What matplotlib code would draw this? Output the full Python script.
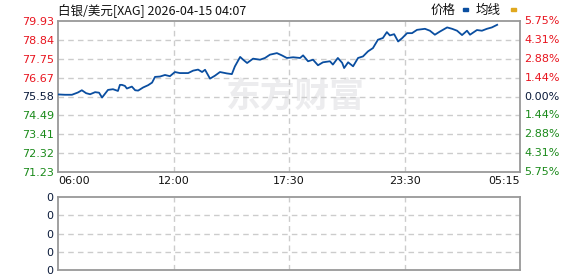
import matplotlib
matplotlib.use("Agg")
import matplotlib.pyplot as plt
from matplotlib.patches import Rectangle

# ---------------- data ----------------
title_text = "白银/美元[XAG] 2026-04-15 04:07"
prev_close = 75.58
price_ticks = [79.93, 78.84, 77.75, 76.67, 75.58, 74.49, 73.41, 72.32, 71.23]
pct_labels = ["5.75%", "4.31%", "2.88%", "1.44%", "0.00%", "1.44%", "2.88%", "4.31%", "5.75%"]
time_labels = ["06:00", "12:00", "17:30", "23:30", "05:15"]
total_minutes = 1395  # 06:00 -> 05:15 next day

# minutes since 06:00
minutes = [0, 21, 42, 60, 72, 85, 97, 112, 124, 133, 151, 166, 181, 187, 193, 202, 208,
           223, 233, 242, 257, 272, 284, 293, 308, 323, 338, 353, 368, 393, 408, 423,
           435, 444, 459, 474, 489, 510, 525, 534, 550, 559, 571, 589, 610, 625, 640,
           661, 676, 691, 710, 731, 740, 755, 770, 785, 800, 821, 830, 845, 858, 864,
           876, 891, 906, 921, 936, 951, 966, 981, 993, 1002, 1015, 1027, 1039, 1054,
           1069, 1084, 1108, 1123, 1138, 1153, 1175, 1190, 1205, 1220, 1235, 1244,
           1265, 1280, 1295, 1310, 1326]
prices = [75.70, 75.68, 75.68, 75.81, 75.94, 75.77, 75.71, 75.83, 75.80, 75.52, 75.96,
          76.00, 75.90, 76.25, 76.25, 76.19, 76.04, 76.15, 75.94, 75.92, 76.10, 76.23,
          76.38, 76.71, 76.73, 76.82, 76.75, 76.99, 76.93, 76.93, 77.07, 77.13, 76.99,
          77.12, 76.61, 76.78, 76.99, 76.91, 76.87, 77.31, 77.86, 77.70, 77.51, 77.76,
          77.70, 77.80, 77.99, 78.08, 77.95, 77.80, 77.84, 77.80, 77.95, 77.61, 77.70,
          77.38, 77.55, 77.61, 77.42, 77.80, 77.52, 77.22, 77.55, 77.32, 77.80, 77.89,
          78.18, 78.37, 78.85, 78.95, 79.29, 79.10, 79.17, 78.75, 78.94, 79.23, 79.23,
          79.42, 79.48, 79.37, 79.14, 79.32, 79.56, 79.48, 79.37, 79.12, 79.37, 79.14,
          79.41, 79.37, 79.48, 79.56, 79.71]
volume_labels = ["0", "0", "0", "0", "0"]

# ---------------- style ----------------
RED = "#e8141e"
GREEN = "#1a8a1a"
DARK = "#0a1a3a"
LINE = "#0a4ea0"
GRID = "#cccccc"
SPINE = "#999999"

plt.rcParams['font.family'] = ['DejaVu Sans', 'Noto Sans CJK SC']

W, H = 578, 276
fig = plt.figure(figsize=(W / 100, H / 100), dpi=100)
fig.patch.set_facecolor("white")

def fx(px):
    return px / W

def fy(py):
    return 1 - py / H

L, R = 58, 520
ax = fig.add_axes([fx(L), fy(172), fx(R - L), fy(21) - fy(172)])
ax2 = fig.add_axes([fx(L), fy(270), fx(R - L), fy(197) - fy(270)])

ymin, ymax = price_ticks[-1], price_ticks[0]
quarters = [total_minutes * i / 4 for i in range(5)]

# watermark
ax.text(0.515, 0.50, "东方财富", transform=ax.transAxes, ha="center", va="center",
        fontsize=25, fontweight="bold", color="#ececee",
        family=['Noto Sans CJK SC'], zorder=0)

for a in (ax, ax2):
    a.set_xlim(0, total_minutes)
    for s in a.spines.values():
        s.set_color(SPINE)
        s.set_linewidth(1.3)
    a.tick_params(length=0)
    for q in quarters[1:-1]:
        a.axvline(q, color=GRID, lw=1, ls=(0, (4, 3)), zorder=1)

ax.set_ylim(ymin, ymax)
for t in price_ticks[1:-1]:
    ax.axhline(t, color=GRID, lw=1, ls=(0, (4, 3)), zorder=1)

ax.plot(minutes, prices, color=LINE, lw=1.3, zorder=3)

ax.set_yticks(price_ticks)
ax.set_yticklabels([f"{v:.2f}" for v in price_ticks], fontsize=8)
for lbl, v in zip(ax.get_yticklabels(), price_ticks):
    lbl.set_color(RED if v > prev_close else (DARK if v == prev_close else GREEN))
ax.tick_params(axis="y", pad=3)

# right percentage labels
for v, s in zip(price_ticks, pct_labels):
    c = RED if v > prev_close else (DARK if v == prev_close else GREEN)
    ax.text(1.01, (v - ymin) / (ymax - ymin), s, transform=ax.transAxes,
            ha="left", va="center", fontsize=8, color=c)

ax.set_xticks(quarters)
ax.set_xticklabels(time_labels, fontsize=8, color="#111111")
xl = ax.get_xticklabels()
xl[0].set_ha("left")
xl[-1].set_ha("right")
ax.tick_params(axis="x", pad=3)

# lower panel
ax2.set_ylim(0, 4)
for t in [1, 2, 3]:
    ax2.axhline(t, color=GRID, lw=1, ls=(0, (4, 3)), zorder=1)
ax2.set_yticks([0, 1, 2, 3, 4])
ax2.set_yticklabels(volume_labels, fontsize=8, color=DARK)
ax2.set_xticks([])

# title and legend
fig.text(fx(L), fy(10), title_text, ha="left", va="center", fontsize=9,
         color="#111111", family=['Noto Sans CJK SC', 'DejaVu Sans'])
fig.text(fx(456), fy(10), "价格", ha="right", va="center", fontsize=9,
         color="#111111", family=['Noto Sans CJK SC'])
fig.patches.append(Rectangle((fx(463), fy(11)), fx(5), fy(8) - fy(11),
                             transform=fig.transFigure, color=LINE))
fig.text(fx(501), fy(10), "均线", ha="right", va="center", fontsize=9,
         color="#111111", family=['Noto Sans CJK SC'])
fig.patches.append(Rectangle((fx(511), fy(11)), fx(5), fy(8) - fy(11),
                             transform=fig.transFigure, color="#e0a81e"))

fig.savefig("out.png", dpi=100)
